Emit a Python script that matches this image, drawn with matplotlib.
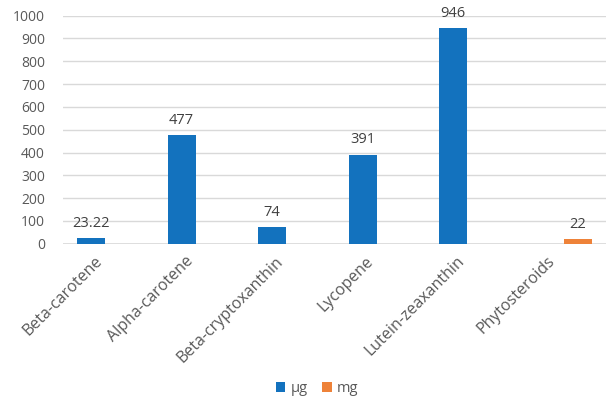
import numpy as np
import matplotlib
matplotlib.use("Agg")
import matplotlib.pyplot as plt
from matplotlib.patches import Patch

plt.rcParams['font.family'] = ['Open Sans', 'DejaVu Sans']

categories = ["Beta-carotene", "Alpha-carotene", "Beta-cryptoxanthin",
              "Lycopene", "Lutein-zeaxanthin", "Phytosteroids"]
ug_values = [23.22, 477, 74, 391, 946, np.nan]
mg_values = [np.nan, np.nan, np.nan, np.nan, np.nan, 22]
ug_labels = ["23.22", "477", "74", "391", "946", None]
mg_labels = [None, None, None, None, None, "22"]
yticks = [0, 100, 200, 300, 400, 500, 600, 700, 800, 900, 1000]
series_names = ["µg", "mg"]

blue = "#1372BE"
orange = "#EE8239"
tick_col = "#595959"
lab_col = "#404040"
grid_col = "#D9D9D9"

fig = plt.figure(figsize=(6.06, 4.01), dpi=100)
ax = fig.add_axes([63/606, (401-243.7)/401, 1 - 63/606, (243.7-15.7)/401])

x = np.arange(len(categories))
w = 0.309
off = 0.19
b1 = ax.bar(x - off, ug_values, w, color=blue, zorder=3)
b2 = ax.bar(x + off, mg_values, w, color=orange, zorder=3)

for rects, labs in ((b1, ug_labels), (b2, mg_labels)):
    for r, lab in zip(rects, labs):
        if lab is None:
            continue
        ax.annotate(lab, xy=(r.get_x() + r.get_width()/2, r.get_height()),
                    xytext=(0, 8), textcoords='offset points',
                    ha='center', va='baseline', fontsize=10.5, color=lab_col)

ax.set_xlim(-0.5, len(categories) - 0.5)
ax.set_ylim(0, 1000)
ax.set_yticks(yticks)
ax.set_yticklabels([str(v) for v in yticks], fontsize=10, color=tick_col)
ax.tick_params(axis='y', length=0, pad=13)
ax.set_xticks([])
ax.grid(axis='y', color=grid_col, linewidth=1.0, zorder=0)
ax.set_axisbelow(True)
for s in ax.spines.values():
    s.set_visible(False)
ax.axhline(0, color=grid_col, linewidth=1.2, zorder=2)

for i, name in enumerate(categories):
    ax.annotate(name, xy=(i, 0), xycoords=('data', 'axes fraction'),
                xytext=(-10, -7), textcoords='offset points',
                rotation=45, ha='right', va='top', rotation_mode='anchor',
                fontsize=11.5, color=tick_col, annotation_clip=False)

handles = [Patch(facecolor=blue), Patch(facecolor=orange)]
fig.legend(handles, series_names, loc='center',
           bbox_to_anchor=(317/606, 1 - 388.5/401), ncol=2, frameon=False,
           handlelength=0.65, handleheight=0.65, handletextpad=0.35,
           columnspacing=1.0, fontsize=10.5, labelcolor=tick_col)

fig.savefig("out.png", dpi=100)
